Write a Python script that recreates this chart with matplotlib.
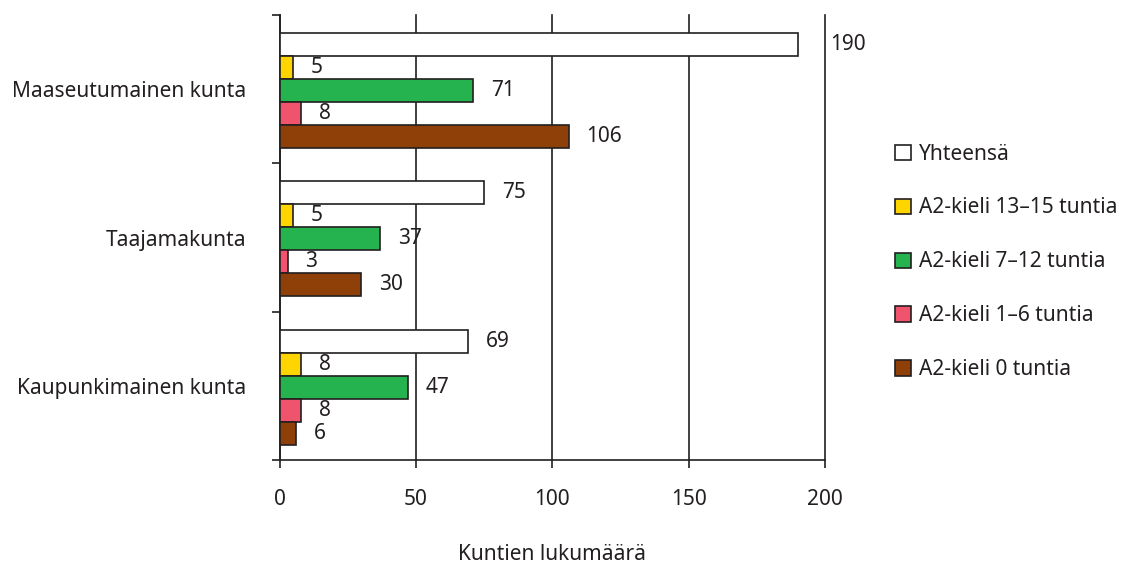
import numpy as np
import matplotlib.pyplot as plt
from matplotlib.patches import Patch

plt.rcParams['font.family'] = ['Noto Sans', 'DejaVu Sans']

# Data
categories = ['Maaseutumainen kunta', 'Taajamakunta', 'Kaupunkimainen kunta']
series = ['Yhteensä', 'A2-kieli 13–15 tuntia', 'A2-kieli 7–12 tuntia',
          'A2-kieli 1–6 tuntia', 'A2-kieli 0 tuntia']
values = {
    'Yhteensä': [190, 75, 69],
    'A2-kieli 13–15 tuntia': [5, 5, 8],
    'A2-kieli 7–12 tuntia': [71, 37, 47],
    'A2-kieli 1–6 tuntia': [8, 3, 8],
    'A2-kieli 0 tuntia': [106, 30, 6],
}
colors = ['#FFFFFF', '#FFD500', '#25B34F', '#F0546C', '#8F4008']
ink = '#231F20'

fig = plt.figure(figsize=(11.23, 5.63), dpi=100)
ax = fig.add_axes([0.2489, 0.1829, 0.4857, 0.7905])

y = np.arange(len(categories))
h = 0.155
for i, name in enumerate(series):
    pos = y + (i - 2) * h + 0.01
    ax.barh(pos, values[name], height=h, color=colors[i],
            edgecolor=ink, linewidth=1.2, zorder=3)
    for p, v in zip(pos, values[name]):
        # keep the label clear of the 200 gridline
        tx = v + 6.5 if v + 6.5 < 185 else 202
        ax.text(tx, p, str(v), va='center', ha='left', fontsize=15,
                color=ink, clip_on=False)

ax.set_xlim(0, 200)
ax.set_ylim(2.5, -0.5)
ax.set_xticks([0, 50, 100, 150, 200])
ax.grid(axis='x', color=ink, linewidth=1.2, zorder=0)
ax.set_axisbelow(True)
for gl in ax.get_xgridlines():
    gl.set_clip_on(False)

ax.set_yticks(y)
ax.set_yticklabels(categories, fontsize=15, color=ink)
ax.tick_params(axis='y', which='major', length=0, pad=24)
ax.set_yticks([-0.5, 0.5, 1.5, 2.5], minor=True)
ax.tick_params(axis='y', which='minor', length=6, width=1.2, color=ink)
ax.tick_params(axis='x', length=6, width=1.2, color=ink, pad=15,
               labelsize=15, labelcolor=ink)

for s in ['top', 'right']:
    ax.spines[s].set_visible(False)
for s in ['left', 'bottom']:
    ax.spines[s].set_linewidth(1.2)
    ax.spines[s].set_color(ink)

fig.text(0.4918, 1 - 554 / 563, 'Kuntien lukumäärä', fontsize=15, color=ink,
         ha='center', va='center')

handles = [Patch(facecolor=c, edgecolor=ink, linewidth=1.2) for c in colors]
fig.legend(handles, series, loc='upper left', bbox_to_anchor=(0.797, 0.745),
           frameon=False, fontsize=15, handlelength=0.75, handleheight=0.75,
           handletextpad=0.4, labelspacing=1.58, borderpad=0, borderaxespad=0,
           labelcolor=ink)

fig.savefig('out.png', dpi=100)
